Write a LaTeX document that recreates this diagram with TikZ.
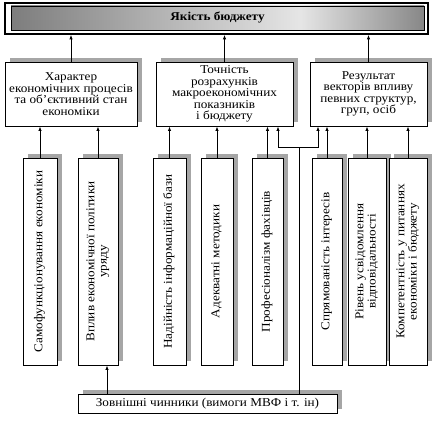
\documentclass[tikz,border=0pt]{standalone}
\usepackage{fontspec}
\usepackage{graphicx}
\setmainfont{Liberation Serif}[FakeStretch=1.1]
\usetikzlibrary{arrows.meta,shadows}
\pgfdeclarehorizontalshading{titleshade}{100bp}{color(0bp)=(black!51); color(25bp)=(black!51); color(60bp)=(black!10); color(75bp)=(black!47); color(100bp)=(black!47)}
\newcommand{\vtext}[1]{\rotatebox{90}{\renewcommand{\arraystretch}{1.08}\begin{tabular}{@{}c@{}}#1\end{tabular}}}
\tikzset{
  box/.style={draw, line width=.9pt, fill=white, align=center, inner sep=1pt,
    drop shadow={shadow xshift=4.5pt, shadow yshift=4pt, fill=black!35, opacity=1}},
  midbox/.style={box, minimum height=64pt},
  vbox/.style={box, minimum height=207pt},
  conn/.style={line width=.8pt, -{Latex[length=4.5pt, width=3.5pt]}},
}
\begin{document}
\begin{tikzpicture}[x=1pt, y=-1pt, font=\fontsize{12}{11.5}\selectfont]
	\useasboundingbox (0,0) rectangle (432,425);
	% top
	\node[draw, line width=1.8pt, minimum width=423pt, minimum height=31pt] (qualityframe) at (216.5,18.5) {};
	\node[draw, line width=.8pt, shade, shading=titleshade, minimum width=413pt, minimum height=24pt, font=\bfseries\fontsize{12}{11.5}\selectfont] (quality) at (217.5,18) {Якість бюджету};
	% middle row
	\node[midbox, minimum width=132pt] (character) at (71,94)    {Характер\\економічних процесів\\та об’єктивний стан\\економіки};
	\node[midbox, minimum width=137pt] (accuracy)  at (224.5,94) {Точність\\розрахунків\\макроекономічних\\показників\\і бюджету};
	\node[midbox, minimum width=117pt] (result)    at (368.5,94) {Результат\\векторів впливу\\певних структур,\\груп, осіб};
	% bottom row
	\node[vbox, minimum width=34pt] (selffunc)   at (40,261.5)    {\vtext{Самофункціонування економіки}};
	\node[vbox, minimum width=40pt] (policy)     at (98,261.5)    {\vtext{Вплив економічної політики\\уряду}};
	\node[vbox, minimum width=33pt] (database)   at (169.5,261.5) {\vtext{Надійність інформаційної бази}};
	\node[vbox, minimum width=32pt] (methods)    at (217,261.5)   {\vtext{Адекватні методики}};
	\node[vbox, minimum width=31pt] (experts)    at (267.5,261.5) {\vtext{Професіоналізм фахівців}};
	\node[vbox, minimum width=30pt] (interests)  at (327,261.5)   {\vtext{Спрямованість інтересів}};
	\node[vbox, minimum width=38pt] (duty)       at (367,261.5)   {\vtext{Рівень усвідомлення\\відповідальності}};
	\node[vbox, minimum width=38pt] (competence) at (408,261.5)   {\vtext{Компетентність у питаннях\\економіки і бюджету}};
	\node[box, minimum width=259pt, minimum height=19pt] (external) at (207.5,403.5) {Зовнішні чинники (вимоги МВФ і т. ін)};
	% arrows
	\draw[conn] (character.north) -- (character.north |- qualityframe.south);
	\draw[conn] (accuracy.north)  -- (accuracy.north |- qualityframe.south);
	\draw[conn] (result.north)    -- (result.north |- qualityframe.south);
	\draw[conn] (selffunc.north)   -- (selffunc.north |- character.south);
	\draw[conn] (policy.north)     -- (policy.north |- character.south);
	\draw[conn] (database.north)   -- (database.north |- accuracy.south);
	\draw[conn] (methods.north)    -- (methods.north |- accuracy.south);
	\draw[conn] (experts.north)    -- (experts.north |- accuracy.south);
	\draw[conn] (interests.north)  -- (interests.north |- result.south);
	\draw[conn] (duty.north)       -- (duty.north |- result.south);
	\draw[conn] (competence.north) -- (competence.north |- result.south);
	\coordinate (extup) at ([xshift=9pt]policy.south);
	\draw[conn] (extup |- external.north) -- (extup);
	\coordinate (split)      at (299,147);
	\coordinate (splitleft)  at (278,147);
	\coordinate (splitright) at (318,147);
	\draw[line width=.8pt] (external.north -| split) -- (split);
	\draw[conn] (split) -| (splitleft |- accuracy.south);
	\draw[conn] (split) -| (splitright |- result.south);
\end{tikzpicture}
\end{document}
